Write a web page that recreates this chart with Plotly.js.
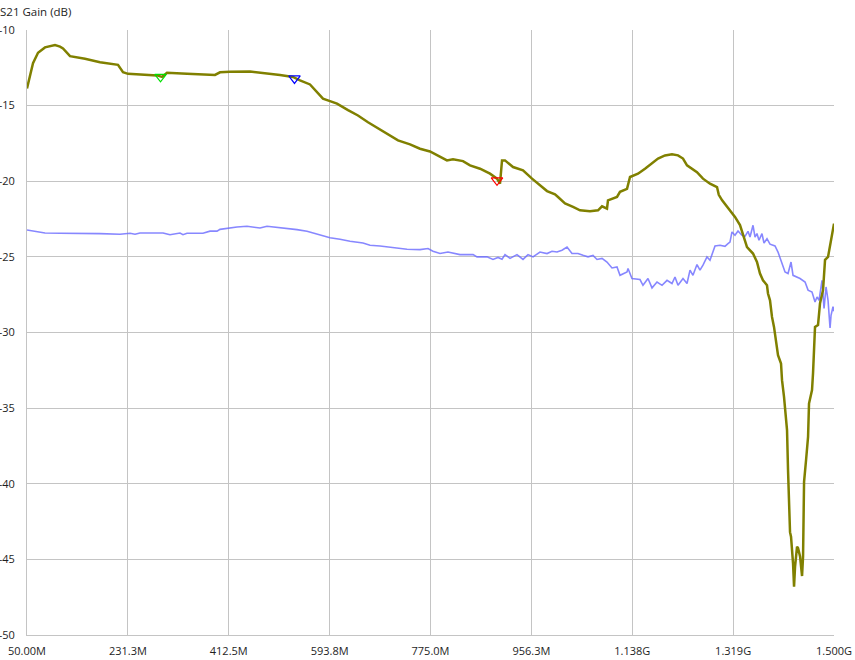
<!DOCTYPE html>
<html>
<head>
<meta charset="utf-8">
<script src="https://cdn.plot.ly/plotly-3.0.1.min.js"></script>
<style>html,body{margin:0;padding:0;background:#fff;}#chart{width:855px;height:660px;}</style>
</head>
<body>
<div id="chart"></div>
<script>
// S21 gain trace (olive), frequency in MHz, gain in dB
var gainFreq = [50,60.8,69.8,82.3,100.3,109.3,114.7,127.3,154.2,181.2,213.5,222.5,231.5,271.0,283.6,292.6,301.5,337.5,387.8,396.8,414.7,450.7,477.6,504.6,527.9,540.5,558.5,572.9,581.8,594.4,607.0,626.8,644.7,662.7,680.7,702.2,716.6,738.2,756.1,774.1,792.1,804.6,815.4,833.4,846.0,864.0,881.9,894.5,899.9,903.5,908.9,923.3,941.2,957.4,984.4,998.7,1004.1,1016.7,1031.1,1043.6,1061.6,1076.0,1083.2,1092.1,1093.9,1110.1,1115.5,1128.1,1133.5,1147.8,1160.4,1173.0,1183.8,1196.3,1208.9,1219.7,1228.7,1235.9,1246.6,1253.8,1264.6,1277.2,1289.8,1293.0,1299.0,1316.7,1322.1,1331.1,1336.5,1343.7,1354.5,1361.6,1367.0,1372.4,1379.6,1381.4,1385.0,1388.6,1392.2,1395.8,1399.4,1404.8,1406.6,1410.2,1412.0,1415.6,1417.4,1419.2,1421.0,1422.8,1424.6,1426.4,1428.2,1430.0,1433.6,1435.4,1439.0,1442.6,1444.4,1446.2,1449.8,1451.6,1453.4,1455.1,1458.7,1460.5,1462.3,1464.1,1465.9,1471.3,1473.1,1474.9,1480.3,1483.9,1489.3,1494.7,1500.0];
var gainDb = [-13.86,-12.2,-11.5,-11.15,-11.0,-11.1,-11.22,-11.73,-11.9,-12.13,-12.3,-12.79,-12.9,-12.94,-13.0,-13.1,-12.83,-12.9,-12.97,-12.8,-12.76,-12.74,-12.84,-12.97,-13.1,-13.33,-13.6,-14.2,-14.54,-14.7,-14.87,-15.3,-15.65,-16.1,-16.5,-17.0,-17.3,-17.56,-17.85,-18.03,-18.4,-18.62,-18.55,-18.67,-18.95,-19.17,-19.5,-19.83,-20.16,-18.62,-18.62,-19.06,-19.28,-19.83,-20.65,-20.87,-21.04,-21.46,-21.7,-21.92,-21.99,-21.92,-21.66,-21.81,-21.26,-21.04,-20.7,-20.5,-19.72,-19.5,-19.17,-18.84,-18.5,-18.29,-18.22,-18.29,-18.5,-18.95,-19.23,-19.4,-19.83,-20.16,-20.38,-20.9,-21.26,-22.1,-22.36,-22.9,-23.46,-24.35,-24.78,-25.34,-26.1,-26.55,-26.88,-27.42,-27.87,-28.97,-29.63,-30.5,-31.5,-32.05,-33.15,-34.25,-34.9,-36.45,-39.1,-41.74,-43.2,-43.5,-44.16,-45.26,-46.8,-45.5,-44.16,-44.25,-44.8,-46.1,-44.8,-39.87,-38.43,-37.8,-36.9,-34.7,-34.03,-33.8,-32.7,-30.5,-29.63,-29.5,-28.75,-28.06,-27.2,-25.2,-25.0,-23.9,-22.8];

// Second trace (blue), frequency in MHz, gain in dB
var refFreq = [50,68.0,82.3,109.3,145.2,181.2,217.1,235.1,244.1,253.0,294.4,306.9,324.9,330.3,337.5,366.2,378.8,391.4,396.8,414.7,427.3,445.3,456.1,468.7,481.2,499.2,517.2,535.1,553.1,563.9,576.5,594.4,612.4,630.4,653.7,666.3,684.3,702.2,720.2,732.8,756.1,770.5,779.5,792.1,806.4,828.0,851.4,858.6,876.5,887.3,896.3,903.5,908.9,917.9,930.4,941.2,950.2,959.2,971.7,984.3,993.3,1002.3,1011.3,1020.3,1029.2,1040.0,1049.0,1058.0,1067.0,1074.2,1083.2,1092.1,1101.1,1110.1,1115.5,1128.1,1129.9,1137.0,1151.4,1156.8,1165.8,1173.0,1182.0,1191.0,1200.0,1208.9,1214.3,1219.7,1228.7,1235.9,1241.3,1246.6,1253.8,1259.2,1264.6,1271.8,1277.2,1286.2,1295.2,1304.1,1309.5,1313.1,1316.7,1322.1,1327.5,1334.7,1340.1,1345.5,1349.1,1354.5,1358.1,1361.6,1365.2,1370.6,1374.2,1379.6,1385.0,1394.0,1399.4,1406.6,1412.0,1417.4,1422.8,1426.4,1433.6,1439.0,1448.0,1453.4,1460.5,1465.9,1469.5,1473.1,1478.5,1482.1,1485.7,1489.3,1492.9,1494.7,1498.2,1500.0];
var refDb = [-23.22,-23.35,-23.42,-23.44,-23.44,-23.46,-23.5,-23.44,-23.5,-23.42,-23.42,-23.54,-23.42,-23.53,-23.44,-23.44,-23.3,-23.3,-23.18,-23.07,-23.02,-22.98,-23.02,-23.09,-22.98,-23.05,-23.11,-23.2,-23.31,-23.42,-23.57,-23.73,-23.84,-23.97,-24.08,-24.23,-24.28,-24.35,-24.41,-24.5,-24.52,-24.45,-24.63,-24.78,-24.68,-24.85,-24.85,-25.0,-25.0,-25.17,-25.04,-25.16,-24.85,-25.1,-24.85,-25.17,-24.85,-25.0,-24.68,-24.78,-24.63,-24.68,-24.56,-24.35,-24.78,-24.78,-24.9,-25.0,-24.9,-25.17,-25.1,-25.34,-25.73,-25.67,-26.22,-26.0,-25.77,-26.43,-26.5,-26.88,-26.43,-27.05,-26.66,-26.88,-26.55,-26.76,-26.33,-26.88,-26.43,-26.76,-25.88,-26.22,-25.51,-25.88,-25.55,-25.0,-25.22,-24.28,-24.23,-24.3,-24.12,-24.02,-23.35,-23.57,-23.29,-23.57,-23.64,-23.31,-23.69,-22.91,-23.69,-23.46,-23.9,-23.46,-24.08,-23.8,-24.16,-24.28,-24.68,-25.44,-26.0,-26.1,-25.34,-26.22,-26.33,-26.43,-26.66,-27.2,-27.32,-27.98,-27.65,-27.87,-26.55,-28.41,-26.99,-27.87,-29.7,-28.86,-28.3,-28.6];

// Markers on the gain trace
var mkFreq = [289.9, 530.6, 894.5];
var mkDb = [-13.1, -13.2, -19.94];
var mkColor = ['#00e000', '#0000ff', '#ff0000'];

// Axis ticks
var xTickVals = [50, 231.25, 412.5, 593.75, 775, 956.25, 1137.5, 1318.75, 1500];
var xTickText = ['50.00M','231.3M','412.5M','593.8M','775.0M','956.3M','1.138G','1.319G','1.500G'];
var yTickVals = [-10,-15,-20,-25,-30,-35,-40,-45,-50];
var yTickText = ['-10','-15','-20','-25','-30','-35','-40','-45','-50'];

var traces = [
  {x: refFreq, y: refDb, type: 'scatter', mode: 'lines',
   line: {color: 'rgba(105,105,255,0.8)', width: 1.6}, hoverinfo: 'skip'},
  {x: gainFreq, y: gainDb, type: 'scatter', mode: 'lines',
   line: {color: '#808000', width: 2.5}, hoverinfo: 'skip'},
  {x: mkFreq, y: mkDb, type: 'scatter', mode: 'markers',
   marker: {symbol: 'triangle-down-open', size: 10, color: mkColor, line: {width: 1.2, color: mkColor}}, hoverinfo: 'skip'}
];

var layout = {
  width: 855, height: 660,
  margin: {l: 27, r: 21, t: 30, b: 25, pad: 0},
  paper_bgcolor: '#ffffff', plot_bgcolor: '#ffffff',
  showlegend: false,
  font: {family: 'Open Sans, Noto Sans, sans-serif', size: 11, color: '#1e1e1e'},
  title: {text: 'S21 Gain (dB)', x: 0, xref: 'container', xanchor: 'left', y: 1 - 12/660, yref: 'container', yanchor: 'middle',
          font: {family: 'Open Sans, Noto Sans, sans-serif', size: 11.5, color: '#1e1e1e'}, pad: {l: 0, t: 0, b: 0, r: 0}},
  xaxis: {range: [50, 1500], tickvals: xTickVals, ticktext: xTickText, showgrid: true, gridcolor: '#c4c4c4', gridwidth: 1,
          zeroline: false, showline: true, linecolor: '#c4c4c4', linewidth: 1, ticks: '', ticklabelstandoff: 6, fixedrange: true},
  yaxis: {range: [-50, -10], tickvals: yTickVals, ticktext: yTickText, showgrid: true, gridcolor: '#c4c4c4', gridwidth: 1,
          zeroline: false, showline: true, linecolor: '#c4c4c4', linewidth: 1, ticks: '', ticklabelstandoff: 9, fixedrange: true}
};

Plotly.newPlot('chart', traces, layout, {displayModeBar: false, staticPlot: true});
</script>
</body>
</html>
